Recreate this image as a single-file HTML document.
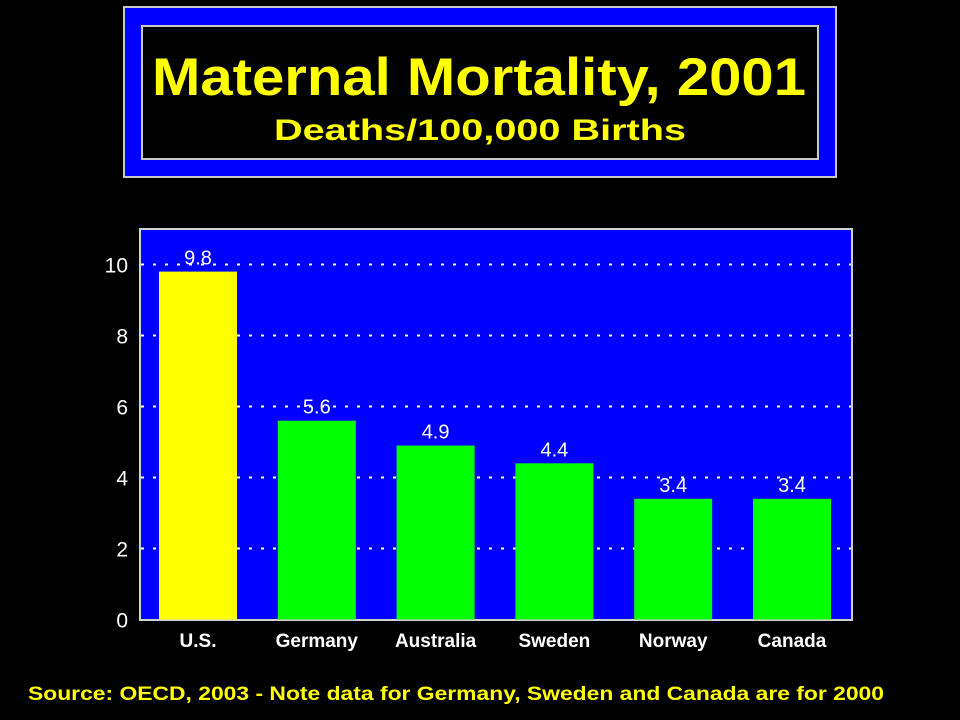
<!DOCTYPE html>
<html><head><meta charset="utf-8"><style>
html,body{margin:0;padding:0;background:#000;width:960px;height:720px;overflow:hidden}
svg{display:block}
text{font-family:"Liberation Sans",sans-serif}
</style></head><body>
<svg width="960" height="720">
<rect x="0" y="0" width="960" height="720" fill="#000"/>
<rect x="124" y="7" width="712" height="170" fill="#0000ff" stroke="#c8c8c8" stroke-width="2"/>
<rect x="142" y="26" width="676" height="133" fill="#000" stroke="#c8c8c8" stroke-width="2"/>
<text x="479" y="95" text-anchor="middle" font-size="53" font-weight="bold" fill="#ffff00" textLength="654" lengthAdjust="spacingAndGlyphs">Maternal Mortality, 2001</text>
<text x="480" y="140" text-anchor="middle" font-size="30" font-weight="bold" fill="#ffff00" textLength="412" lengthAdjust="spacingAndGlyphs">Deaths/100,000 Births</text>
<rect x="140" y="229" width="712" height="391" fill="#0000ff" stroke="#d0d0d0" stroke-width="2"/>
<g id="grid"></g><g id="bars"></g><g id="labels"></g>
<text x="456" y="700" text-anchor="middle" font-size="19" font-weight="bold" fill="#ffff00" textLength="856" lengthAdjust="spacingAndGlyphs">Source: OECD, 2003 - Note data for Germany, Sweden and Canada are for 2000</text>
</svg>
<script>
const categories=["U.S.","Germany","Australia","Sweden","Norway","Canada"];
const values=[9.8,5.6,4.9,4.4,3.4,3.4];
const valueLabels=["9.8","5.6","4.9","4.4","3.4","3.4"];
const barColors=["#ffff00","#00ff00","#00ff00","#00ff00","#00ff00","#00ff00"];
const yTicks=[0,2,4,6,8,10];
const NS="http://www.w3.org/2000/svg";
const y0=619.5,pxPerUnit=35.5,firstBarX=159,step=118.8,barW=78;
const yScale=v=>y0-v*pxPerUnit;
const xScale=i=>firstBarX+i*step;
function mk(tag,attrs,parent){const e=document.createElementNS(NS,tag);for(const k in attrs)e.setAttribute(k,attrs[k]);document.getElementById(parent).appendChild(e);return e;}
yTicks.forEach(t=>{
  const y=yScale(t);
  if(t>0){const l=mk("line",{x1:141,x2:851,y1:y,y2:y,stroke:"#fff","stroke-width":2,"stroke-dasharray":"3 9"},"grid");
  
  }
  const tx=mk("text",{x:128,y:y+8,"text-anchor":"end","font-size":21,fill:"#fff"},"grid");
  tx.textContent=String(t);
  
  
});
categories.forEach((c,i)=>{
  const x=xScale(i),y=yScale(values[i]);
  const r=mk("rect",{x:x,y:y,width:barW,height:y0-y,fill:barColors[i]},"bars");
  
  
  const v=mk("text",{x:x+barW/2,y:y-7,"text-anchor":"middle","font-size":20,fill:"#fff"},"labels");
  v.textContent=valueLabels[i];
  
  
  const cl=mk("text",{x:x+barW/2,y:647,"text-anchor":"middle","font-size":19,"font-weight":"bold",fill:"#fff"},"labels");
  cl.textContent=c;
  
  
});
</script>
</body></html>
